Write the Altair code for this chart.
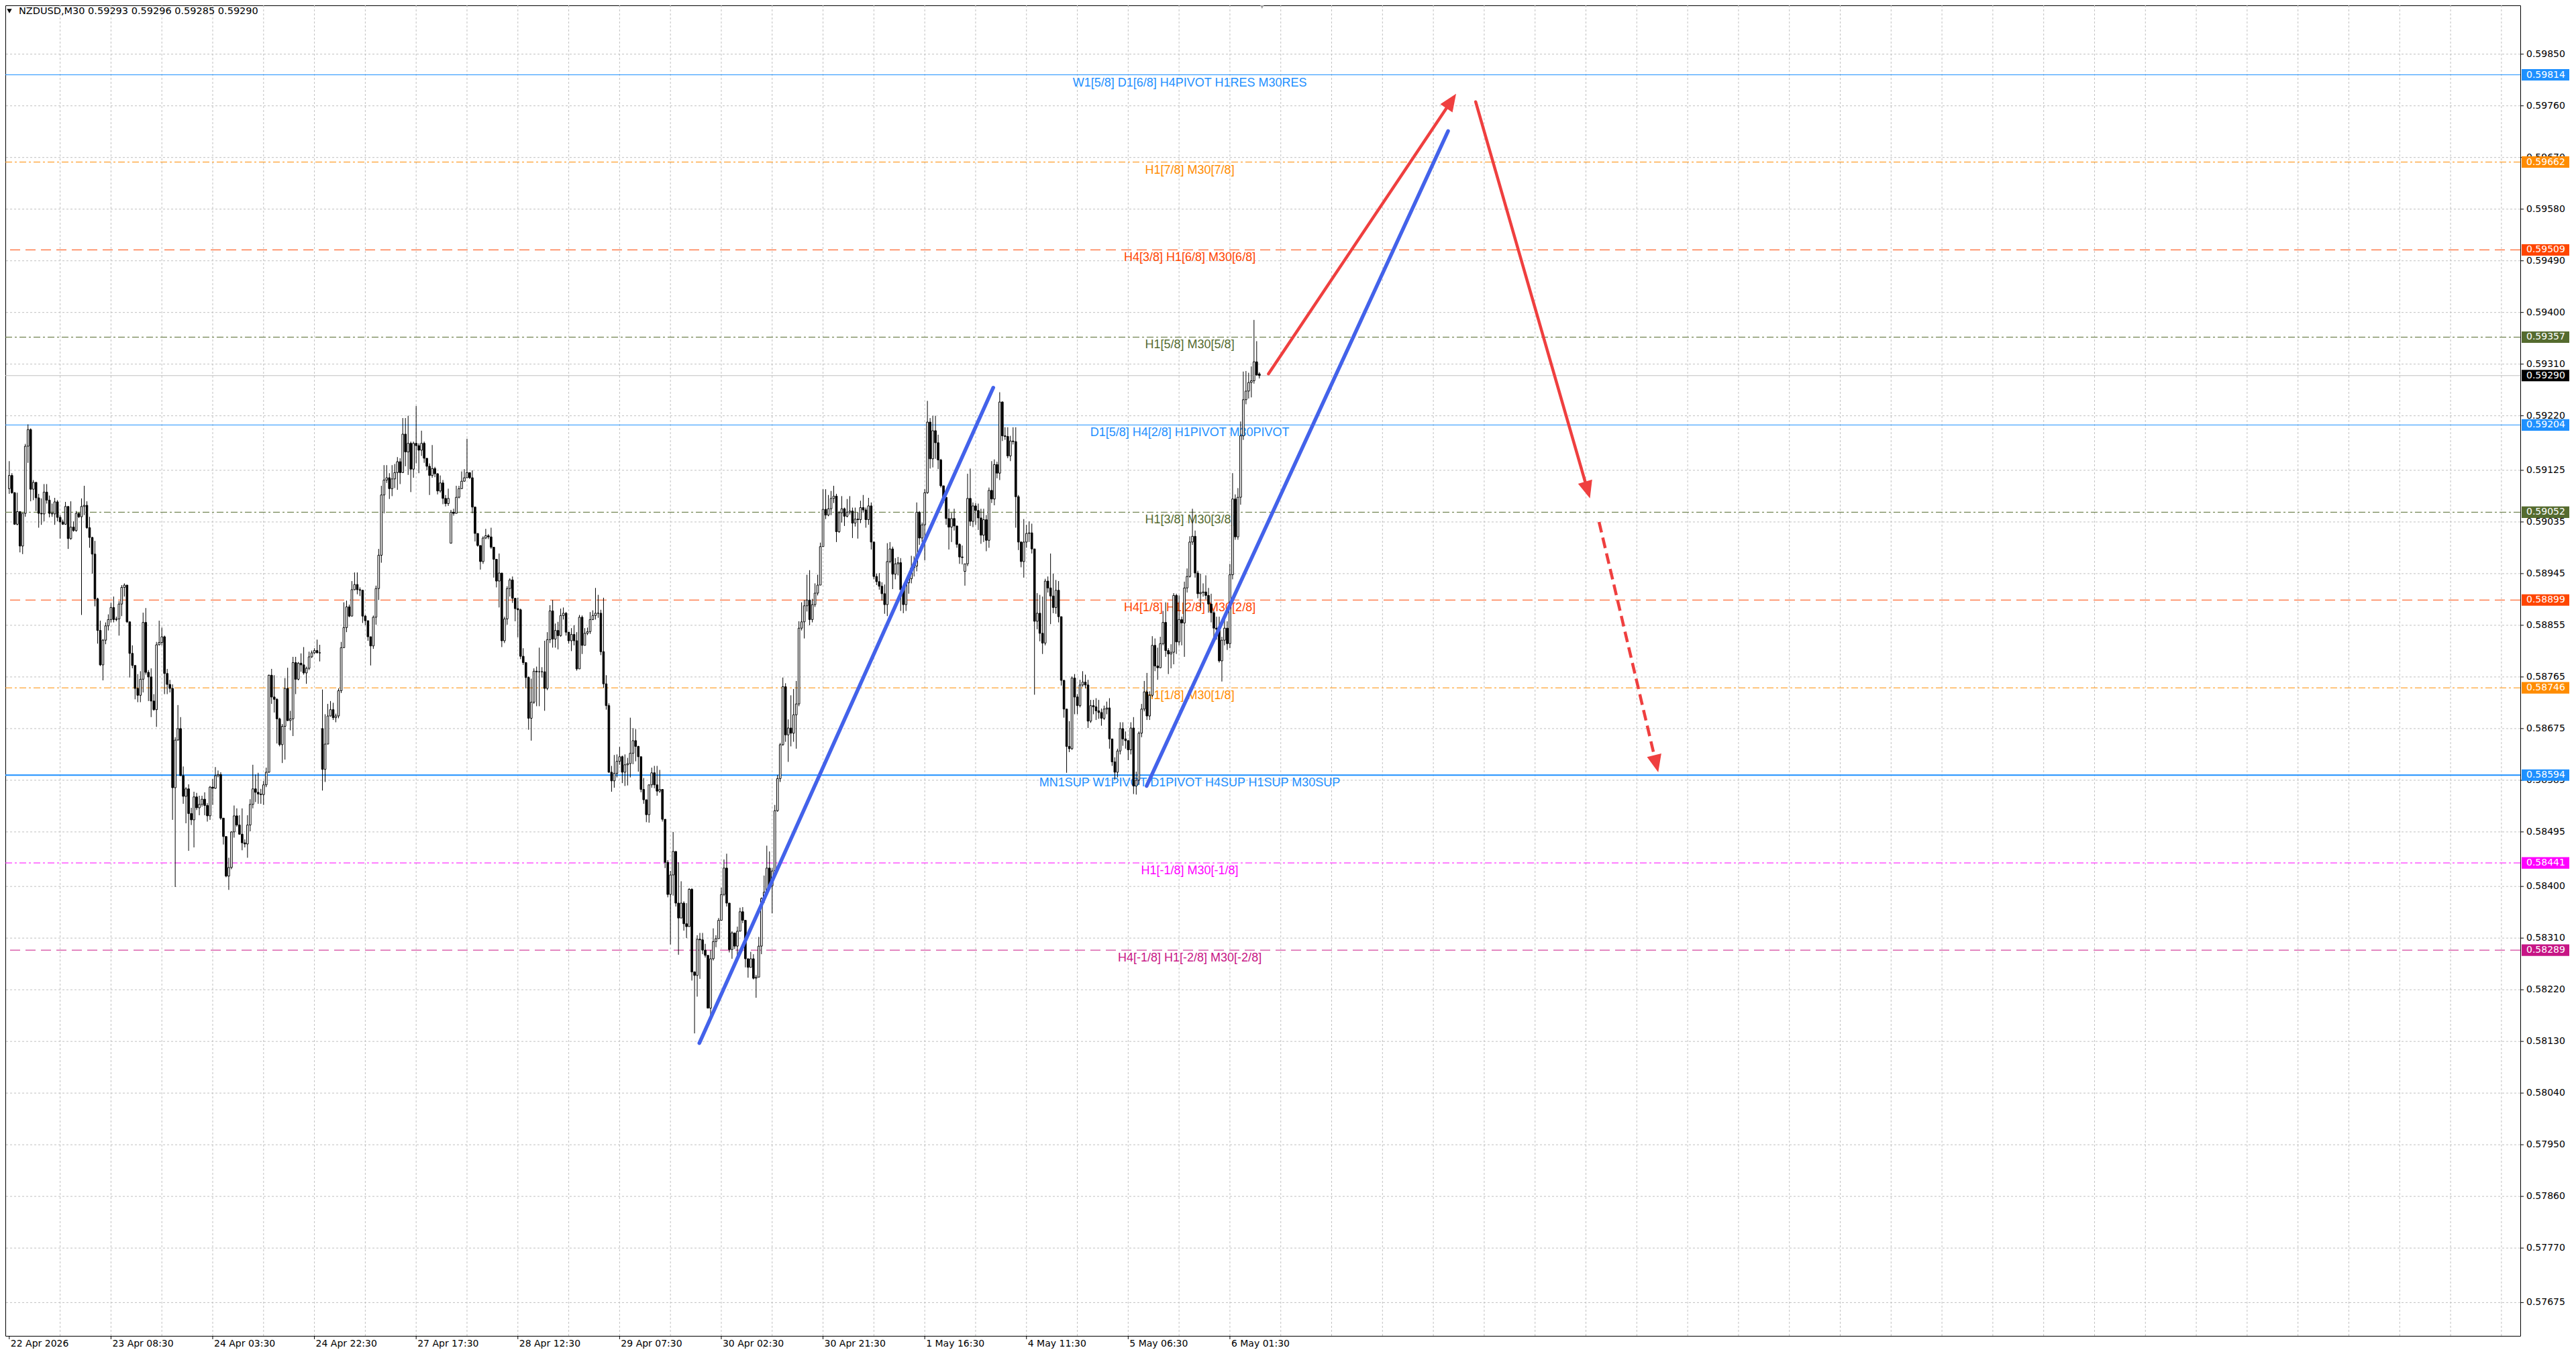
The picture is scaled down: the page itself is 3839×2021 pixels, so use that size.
import math
import altair as alt
import pandas as pd

# ---------------- data (prices in points, 1 point = 0.00001) ----------------
close_pts = [
    59116, 59086, 59031, 59053, 58993, 59050, 59167, 59196, 59092, 59104,
    59077, 59050, 59049, 59087, 59073, 59050, 59049, 59070, 59043, 59035,
    59031, 59062, 59006, 59026, 59020, 59050, 59044, 59062, 59064, 59025,
    59008, 58979, 58901, 58846, 58786, 58829, 58854, 58865, 58886, 58865,
    58866, 58892, 58921, 58925, 58861, 58806, 58785, 58745, 58733, 58761,
    58860, 58773, 58765, 58723, 58708, 58821, 58825, 58835, 58771, 58752,
    58745, 58572, 58655, 58675, 58593, 58557, 58570, 58527, 58516, 58556,
    58537, 58543, 58552, 58541, 58523, 58573, 58571, 58593, 58595, 58519,
    58487, 58418, 58433, 58495, 58523, 58507, 58491, 58476, 58474, 58507,
    58543, 58570, 58564, 58561, 58560, 58577, 58599, 58768, 58730, 58726,
    58692, 58647, 58679, 58745, 58689, 58692, 58790, 58761, 58789, 58786,
    58772, 58780, 58800, 58807, 58811, 58807, 58807, 58604, 58648, 58697,
    58708, 58694, 58697, 58741, 58816, 58851, 58887, 58871, 58917, 58926,
    58917, 58916, 58871, 58863, 58835, 58819, 58869, 58919, 58977, 59082,
    59108, 59112, 59093, 59110, 59121, 59140, 59121, 59188, 59157, 59172,
    59127, 59172, 59168, 59160, 59172, 59146, 59132, 59116, 59128, 59119,
    59089, 59103, 59076, 59067, 59076, 59052, 59050, 59078, 59093, 59106,
    59112, 59121, 59112, 59061, 59015, 58994, 58966, 59007, 59011, 59009,
    58991, 58970, 58932, 58946, 58828, 58866, 58919, 58934, 58902, 58884,
    58882, 58801, 58790, 58764, 58693, 58721, 58775, 58774, 58774, 58774,
    58745, 58830, 58880, 58831, 58846, 58837, 58872, 58876, 58843, 58828,
    58839, 58828, 58779, 58869, 58820, 58841, 58844, 58865, 58872, 58876,
    58876, 58809, 58753, 58715, 58599, 58584, 58597, 58618, 58626, 58599,
    58612, 58614, 58632, 58654, 58644, 58626, 58569, 58551, 58525, 58577,
    58598, 58577, 58566, 58569, 58517, 58442, 58386, 58420, 58461, 58371,
    58345, 58371, 58335, 58330, 58395, 58251, 58245, 58308, 58307, 58289,
    58280, 58188, 58274, 58304, 58309, 58341, 58386, 58432, 58371, 58290,
    58319, 58296, 58322, 58356, 58341, 58274, 58259, 58274, 58240, 58242,
    58296, 58379, 58390, 58432, 58401, 58427, 58532, 58588, 58647, 58748,
    58664, 58676, 58667, 58699, 58718, 58850, 58861, 58889, 58899, 58865,
    58891, 58911, 58925, 58992, 59057, 59047, 59058, 59076, 59080, 59018,
    59051, 59058, 59045, 59052, 59054, 59033, 59040, 59039, 59060, 59056,
    59039, 59063, 59000, 58940, 58931, 58923, 58910, 58891, 58966, 58988,
    58944, 58962, 58964, 58917, 58891, 58929, 58936, 58955, 58958, 59052,
    59007, 59030, 59086, 59209, 59145, 59194, 59173, 59143, 59098, 59078,
    59041, 59026, 59041, 59028, 58996, 58974, 58973, 58962, 59076, 59036,
    59063, 59055, 59042, 59012, 59039, 59003, 59090, 59075, 59135, 59120,
    59244, 59185, 59184, 59150, 59176, 59175, 59079, 59000, 58966, 59000,
    59015, 59016, 58988, 58862, 58876, 58841, 58824, 58932, 58920, 58906,
    58886, 58916, 58870, 58759, 58709, 58644, 58640, 58763, 58730, 58715,
    58751, 58756, 58751, 58688, 58715, 58713, 58706, 58703, 58693, 58709,
    58711, 58657, 58617, 58599, 58636, 58675, 58657, 58654, 58638, 58676,
    58575, 58585, 58667, 58709, 58739, 58697, 58733, 58820, 58784, 58781,
    58823, 58860, 58811, 58805, 58808, 58907, 58826, 58865, 58859, 58920,
    58940, 59000, 59010, 58946, 58910, 58912, 58913, 58907, 58892, 58877,
    58850, 58848, 58793, 58829, 58850, 58823, 58943, 59075, 59009, 59078,
    59185, 59248, 59263, 59278, 59281, 59314, 59291, 59290,
]
high_pts = [
    59141, 59120, 59087, 59086, 59053, 59050, 59171, 59205, 59198, 59108,
    59104, 59084, 59076, 59101, 59101, 59081, 59067, 59077, 59073, 59047,
    59039, 59070, 59062, 59071, 59036, 59054, 59051, 59076, 59098, 59071,
    59044, 59009, 59002, 58903, 58863, 58831, 58860, 58874, 58894, 58905,
    58870, 58897, 58925, 58928, 58925, 58861, 58820, 58785, 58770, 58775,
    58877, 58885, 58777, 58780, 58735, 58826, 58863, 58851, 58837, 58779,
    58760, 58752, 58660, 58716, 58695, 58609, 58573, 58578, 58537, 58565,
    58563, 58558, 58558, 58564, 58545, 58575, 58587, 58608, 58602, 58599,
    58519, 58487, 58450, 58496, 58541, 58536, 58524, 58536, 58482, 58524,
    58552, 58612, 58595, 58598, 58570, 58584, 58607, 58769, 58779, 58768,
    58728, 58694, 58683, 58763, 58781, 58706, 58800, 58800, 58791, 58806,
    58817, 58783, 58809, 58811, 58815, 58830, 58821, 58743, 58700, 58718,
    58723, 58720, 58701, 58745, 58826, 58895, 58898, 58891, 58932, 58947,
    58947, 58921, 58917, 58873, 58863, 58835, 58872, 58924, 58988, 59098,
    59134, 59134, 59120, 59134, 59136, 59148, 59146, 59216, 59216, 59220,
    59175, 59175, 59237, 59172, 59194, 59175, 59146, 59137, 59169, 59131,
    59120, 59116, 59108, 59082, 59093, 59056, 59058, 59098, 59098, 59123,
    59127, 59180, 59121, 59125, 59061, 59015, 58994, 59010, 59023, 59014,
    59025, 58991, 58970, 58980, 58946, 58870, 58923, 58937, 58940, 58902,
    58903, 58884, 58815, 58790, 58766, 58762, 58780, 58783, 58816, 58782,
    58828, 58843, 58890, 58899, 58858, 58861, 58884, 58886, 58878, 58843,
    58850, 58855, 58843, 58873, 58872, 58850, 58851, 58878, 58881, 58920,
    58908, 58882, 58903, 58768, 58719, 58610, 58629, 58630, 58643, 58628,
    58630, 58624, 58694, 58676, 58674, 58645, 58626, 58589, 58551, 58577,
    58607, 58610, 58610, 58603, 58569, 58517, 58446, 58427, 58495, 58461,
    58442, 58409, 58374, 58371, 58397, 58397, 58252, 58315, 58319, 58319,
    58300, 58280, 58289, 58327, 58315, 58345, 58398, 58447, 58457, 58371,
    58322, 58319, 58330, 58363, 58364, 58341, 58274, 58286, 58282, 58246,
    58312, 58381, 58419, 58471, 58461, 58432, 58542, 58594, 58650, 58764,
    58754, 58691, 58733, 58744, 58758, 58862, 58895, 58899, 58943, 58951,
    58901, 58928, 58943, 58999, 59092, 59092, 59082, 59089, 59098, 59084,
    59054, 59080, 59060, 59075, 59080, 59060, 59060, 59052, 59072, 59082,
    59060, 59077, 59069, 59000, 58945, 58946, 58930, 58926, 58998, 59000,
    58992, 58972, 58974, 58972, 58919, 58932, 58946, 58976, 58975, 59069,
    59054, 59034, 59092, 59246, 59216, 59220, 59220, 59187, 59145, 59098,
    59078, 59058, 59051, 59058, 59028, 58998, 58994, 58962, 59119, 59128,
    59069, 59068, 59067, 59058, 59058, 59047, 59095, 59141, 59144, 59140,
    59261, 59245, 59200, 59200, 59185, 59200, 59200, 59082, 59001, 59040,
    59030, 59036, 59032, 58988, 58911, 58908, 58905, 58936, 58940, 58980,
    58945, 58934, 58932, 58870, 58760, 58709, 58688, 58766, 58770, 58735,
    58760, 58775, 58769, 58760, 58725, 58725, 58728, 58725, 58710, 58715,
    58722, 58728, 58657, 58625, 58640, 58686, 58686, 58670, 58655, 58686,
    58695, 58600, 58670, 58718, 58758, 58772, 58740, 58836, 58832, 58816,
    58835, 58880, 58895, 58815, 58822, 58911, 58910, 58907, 58870, 58931,
    58954, 59010, 59058, 59020, 58950, 58945, 58928, 58942, 58920, 58910,
    58880, 58870, 58870, 58835, 58865, 58862, 58962, 59120, 59083, 59094,
    59210, 59297, 59298, 59295, 59306, 59387, 59350, 59296,
]
low_pts = [
    59084, 59084, 59030, 59029, 58982, 58979, 59044, 59138, 59071, 59073,
    59054, 59025, 59030, 59036, 59067, 59043, 59044, 59030, 59036, 59006,
    59030, 59030, 58988, 59004, 59018, 59018, 59042, 58873, 59047, 59023,
    58990, 58945, 58888, 58823, 58784, 58759, 58822, 58846, 58860, 58860,
    58862, 58837, 58871, 58905, 58859, 58764, 58780, 58726, 58721, 58721,
    58738, 58769, 58723, 58695, 58706, 58678, 58820, 58820, 58735, 58735,
    58738, 58516, 58399, 58654, 58593, 58544, 58510, 58462, 58507, 58468,
    58533, 58524, 58539, 58524, 58513, 58516, 58542, 58570, 58590, 58516,
    58473, 58416, 58394, 58430, 58485, 58504, 58490, 58463, 58468, 58450,
    58496, 58536, 58547, 58544, 58544, 58542, 58573, 58598, 58718, 58703,
    58649, 58644, 58615, 58621, 58688, 58672, 58662, 58735, 58759, 58774,
    58769, 58753, 58777, 58798, 58805, 58806, 58792, 58567, 58582, 58648,
    58696, 58690, 58686, 58693, 58737, 58816, 58843, 58869, 58871, 58916,
    58909, 58906, 58859, 58855, 58828, 58785, 58814, 58856, 58899, 58964,
    59050, 59103, 59075, 59080, 59094, 59091, 59101, 59121, 59132, 59117,
    59087, 59112, 59137, 59120, 59150, 59138, 59125, 59082, 59112, 59113,
    59083, 59086, 59066, 59062, 59063, 58998, 59046, 59050, 59076, 59093,
    59105, 59112, 59110, 59050, 59001, 58992, 58952, 58962, 59005, 59005,
    58988, 58938, 58921, 58886, 58817, 58824, 58856, 58905, 58894, 58862,
    58834, 58796, 58786, 58745, 58673, 58654, 58718, 58714, 58714, 58764,
    58706, 58742, 58824, 58816, 58816, 58813, 58835, 58865, 58837, 58823,
    58810, 58820, 58776, 58779, 58805, 58820, 58838, 58840, 58864, 58865,
    58868, 58803, 58746, 58708, 58598, 58565, 58572, 58590, 58612, 58580,
    58575, 58576, 58590, 58613, 58618, 58600, 58564, 58544, 58512, 58511,
    58572, 58571, 58558, 58563, 58513, 58432, 58381, 58299, 58384, 58365,
    58281, 58345, 58323, 58310, 58330, 58236, 58144, 58208, 58239, 58282,
    58276, 58188, 58167, 58271, 58294, 58309, 58341, 58383, 58365, 58285,
    58274, 58291, 58277, 58322, 58336, 58259, 58241, 58259, 58238, 58206,
    58242, 58282, 58371, 58388, 58394, 58353, 58427, 58530, 58582, 58645,
    58652, 58617, 58644, 58652, 58640, 58714, 58846, 58832, 58879, 58855,
    58860, 58887, 58907, 58925, 58992, 59040, 59045, 59047, 59068, 59000,
    59016, 59034, 59028, 59043, 59048, 59007, 59027, 59006, 59033, 59051,
    59025, 59030, 58987, 58935, 58925, 58917, 58898, 58875, 58871, 58963,
    58918, 58935, 58942, 58880, 58876, 58880, 58910, 58928, 58940, 58949,
    58995, 59000, 58968, 59084, 59128, 59130, 59145, 59127, 59095, 59068,
    59030, 58987, 59000, 59020, 58990, 58962, 58961, 58924, 58958, 59028,
    59026, 59030, 59021, 58997, 59000, 58984, 58990, 59068, 59064, 59111,
    59108, 59176, 59178, 59146, 59141, 59170, 59025, 58986, 58956, 58938,
    58990, 59000, 58980, 58734, 58848, 58827, 58805, 58820, 58912, 58857,
    58876, 58875, 58860, 58750, 58694, 58598, 58634, 58638, 58700, 58700,
    58712, 58748, 58745, 58676, 58685, 58700, 58690, 58692, 58680, 58690,
    58700, 58640, 58610, 58586, 58590, 58630, 58645, 58640, 58620, 58630,
    58561, 58560, 58577, 58660, 58705, 58690, 58690, 58730, 58775, 58760,
    58780, 58820, 58800, 58770, 58780, 58787, 58805, 58820, 58820, 58800,
    58912, 58938, 58995, 58938, 58902, 58885, 58905, 58900, 58877, 58860,
    58830, 58830, 58790, 58757, 58820, 58812, 58815, 58935, 59004, 59004,
    59065, 59178, 59240, 59250, 59252, 59276, 59290, 59285,
]
# opens that differ from the previous close (first bar, weekend gaps, etc.)
open_overrides = {0: 59093, 117: 58675, 165: 58998, 357: 58949, 467: 59293}

# level lines
level_prices = [0.59814, 0.59662, 0.59509, 0.59357, 0.59290, 0.59204,
                0.59052, 0.58899, 0.58746, 0.58594, 0.58441, 0.58289]
level_texts = ["W1[5/8] D1[6/8] H4PIVOT H1RES M30RES", "H1[7/8] M30[7/8]",
               "H4[3/8] H1[6/8] M30[6/8]", "H1[5/8] M30[5/8]", "",
               "D1[5/8] H4[2/8] H1PIVOT M30PIVOT", "H1[3/8] M30[3/8]",
               "H4[1/8] H1[2/8] M30[2/8]", "H1[1/8] M30[1/8]",
               "MN1SUP W1PIVOT D1PIVOT H4SUP H1SUP M30SUP",
               "H1[-1/8] M30[-1/8]", "H4[-1/8] H1[-2/8] M30[-2/8]"]
level_colors = ["#1E90FF", "#FF8C00", "#FF4500", "#556B2F", "#C0C0C0", "#1E90FF",
                "#556B2F", "#FF4500", "#FF8C00", "#1E90FF", "#FF00FF", "#C71585"]
tag_colors = ["#1E90FF", "#FF8C00", "#FF4500", "#556B2F", "#000000", "#1E90FF",
              "#556B2F", "#FF4500", "#FF8C00", "#1E90FF", "#FF00FF", "#C71585"]
level_styles = ["solid", "dashdot", "dash", "dashdot", "solid", "solid",
                "dashdot", "dash", "dashdot", "solid", "dashdot", "dash"]
level_widths = [1, 1, 1, 1, 1, 1, 1, 1, 1, 2, 1, 1]
label_bar = 441

# axis ticks / labels
y_ticks = [0.59850, 0.59760, 0.59670, 0.59580, 0.59490, 0.59400, 0.59310,
           0.59220, 0.59125, 0.59035, 0.58945, 0.58855, 0.58765, 0.58675,
           0.58585, 0.58495, 0.58400, 0.58310, 0.58220, 0.58130, 0.58040,
           0.57950, 0.57860, 0.57770, 0.57675]
x_label_texts = ["22 Apr 2026", "23 Apr 08:30", "24 Apr 03:30", "24 Apr 22:30",
                 "27 Apr 17:30", "28 Apr 12:30", "29 Apr 07:30", "30 Apr 02:30",
                 "30 Apr 21:30", "1 May 16:30", "4 May 11:30", "5 May 06:30",
                 "6 May 01:30"]
x_label_step = 38
grid_step = 19
shift_marker_bar = 468

# drawn trend lines and forecast arrows (bar index, price)
trend_x = [[257.8, 367.6], [424.9, 537.5]]
trend_y = [[0.58127, 0.59269], [0.58575, 0.59716]]
arrow_x = [[470.4, 540.5], [547.8, 590.5], [593.9, 616.0]]
arrow_y = [[0.59293, 0.59781], [0.59767, 0.59076], [0.59035, 0.58599]]
arrow_dashed = [False, False, True]

title_text = "NZDUSD,M30  0.59293 0.59296 0.59285 0.59290"

# ---------------- layout ----------------
W, H = 3748, 1983
X_DOMAIN = [-0.2, 936.8]
Y_DOMAIN = [0.57617, 0.59935]
PX_PER_BAR = W / (X_DOMAIN[1] - X_DOMAIN[0])
PX_PER_PRICE = H / (Y_DOMAIN[1] - Y_DOMAIN[0])

xs = alt.Scale(domain=X_DOMAIN, nice=False, zero=False)
ys = alt.Scale(domain=Y_DOMAIN, nice=False, zero=False)

AXIS_FONT = "DejaVu Sans"
LABEL_FONT = "Liberation Sans"
RED = "#EF3F3F"
BLUE = "#4362EA"


def X(field):
    return alt.X(field, scale=xs, axis=None)


def Y(field):
    return alt.Y(field, scale=ys, axis=None)


# ---------------- candles ----------------
rows = []
for i, c in enumerate(close_pts):
    o = open_overrides.get(i, close_pts[i - 1] if i > 0 else c)
    hh = max(high_pts[i], o, c)
    ll = min(low_pts[i], o, c)
    rows.append({"i": i, "o": o / 1e5, "c": c / 1e5, "h": hh / 1e5, "l": ll / 1e5})
cdf = pd.DataFrame(rows)

wicks = alt.Chart(cdf).mark_rule(color="black", strokeWidth=1).encode(
    x=X("i:Q"), y=Y("l:Q"), y2="h:Q",
)
bodies = alt.Chart(cdf).mark_bar(size=2.6, stroke="black", strokeWidth=1).encode(
    x=X("i:Q"), y=Y("o:Q"), y2="c:Q",
    fill=alt.condition("datum.c >= datum.o", alt.value("white"), alt.value("black")),
)

# ---------------- grid ----------------
grid_v = alt.Chart(pd.DataFrame({"g": list(range(grid_step, int(X_DOMAIN[1]), grid_step))})).mark_rule(
    color="#C0C0C0", strokeDash=[3, 3], strokeWidth=1
).encode(x=X("g:Q"))
grid_h = alt.Chart(pd.DataFrame({"v": y_ticks})).mark_rule(
    color="#C0C0C0", strokeDash=[3, 3], strokeWidth=1
).encode(y=Y("v:Q"))

# ---------------- axes (drawn as marks) ----------------
ytdf = pd.DataFrame({"v": y_ticks, "t": [f"{v:.5f}" for v in y_ticks]})
y_tick_marks = alt.Chart(ytdf).mark_rule(color="black", strokeWidth=1).encode(
    y=Y("v:Q"), x=alt.value(W), x2=alt.value(W + 5),
)
y_tick_labels = alt.Chart(ytdf).mark_text(
    font=AXIS_FONT, fontSize=14, align="left", baseline="middle", color="black"
).encode(y=Y("v:Q"), x=alt.value(W + 9), text="t:N")

xtdf = pd.DataFrame({"b": [k * x_label_step for k in range(len(x_label_texts))],
                     "t": x_label_texts})
x_tick_marks = alt.Chart(xtdf).mark_rule(color="black", strokeWidth=1).encode(
    x=X("b:Q"), y=alt.value(H), y2=alt.value(H + 5),
)
x_tick_labels = alt.Chart(xtdf).mark_text(
    font=AXIS_FONT, fontSize=14, align="left", baseline="top", color="black", dx=2
).encode(x=X("b:Q"), y=alt.value(H + 5), text="t:N")

# ---------------- levels ----------------
ldf = pd.DataFrame({
    "p": level_prices, "text": level_texts, "col": level_colors, "tag": tag_colors,
    "style": level_styles, "w": level_widths,
})
ldf["lx"] = label_bar
ldf["top"] = ldf["p"] + 0.0001
ldf["bot"] = ldf["p"] - 0.0001
ldf["ptxt"] = ldf["p"].map(lambda v: f"{v:.5f}")

level_layers = []
for style, dash in [("solid", None), ("dashdot", [10, 4, 3, 4]), ("dash", [15, 8])]:
    kw = {"strokeCap": "butt"}
    if dash:
        kw["strokeDash"] = dash
    level_layers.append(
        alt.Chart(ldf[ldf["style"] == style]).mark_rule(**kw).encode(
            y=Y("p:Q"),
            color=alt.Color("col:N", scale=None),
            strokeWidth=alt.StrokeWidth("w:Q", scale=None),
        )
    )

level_labels = alt.Chart(ldf[ldf["text"] != ""]).mark_text(
    font=LABEL_FONT, fontSize=18, align="center", baseline="alphabetic", dy=17
).encode(
    x=X("lx:Q"), y=Y("p:Q"), text="text:N",
    color=alt.Color("col:N", scale=None),
)

tags = alt.Chart(ldf).mark_rect().encode(
    x=alt.value(W + 2), x2=alt.value(W + 73),
    y=Y("top:Q"), y2="bot:Q",
    color=alt.Color("tag:N", scale=None),
)
tag_text = alt.Chart(ldf).mark_text(
    font=AXIS_FONT, fontSize=14, align="left", baseline="middle", color="white"
).encode(x=alt.value(W + 9), y=Y("p:Q"), text="ptxt:N")

# ---------------- trend lines and arrows ----------------
trows = []
for k, (xx, yy) in enumerate(zip(trend_x, trend_y)):
    for a, b in zip(xx, yy):
        trows.append({"seg": k, "x": a, "y": b})
trend = alt.Chart(pd.DataFrame(trows)).mark_line(
    color=BLUE, strokeWidth=5.5, strokeCap="round"
).encode(x=X("x:Q"), y=Y("y:Q"), detail="seg:N")

HEAD_LEN = 26
solid_rows, dash_rows, head_rows = [], [], []
for k, (xx, yy, dashed) in enumerate(zip(arrow_x, arrow_y, arrow_dashed)):
    dx = (xx[1] - xx[0]) * PX_PER_BAR
    dy = -(yy[1] - yy[0]) * PX_PER_PRICE
    ln = math.hypot(dx, dy)
    ux, uy = dx / ln, dy / ln
    back = 16
    ex = xx[1] - back * ux / PX_PER_BAR
    ey = yy[1] + back * uy / PX_PER_PRICE
    target = dash_rows if dashed else solid_rows
    target.append({"seg": k, "x": xx[0], "y": yy[0]})
    target.append({"seg": k, "x": ex, "y": ey})
    ang = math.degrees(math.atan2(ux, -uy)) % 360
    head_rows.append({"x": xx[1], "y": yy[1], "ang": ang})

red_solid = alt.Chart(pd.DataFrame(solid_rows)).mark_line(
    color=RED, strokeWidth=4.5, strokeCap="round"
).encode(x=X("x:Q"), y=Y("y:Q"), detail="seg:N")
red_dash = alt.Chart(pd.DataFrame(dash_rows)).mark_line(
    color=RED, strokeWidth=4.5, strokeDash=[16, 8], strokeCap="butt"
).encode(x=X("x:Q"), y=Y("y:Q"), detail="seg:N")
heads = alt.Chart(pd.DataFrame(head_rows)).mark_point(
    shape="M0,0L-0.42,1L0.42,1Z", filled=True, color=RED, opacity=1,
    size=(2 * HEAD_LEN) ** 2, strokeWidth=0,
).encode(x=X("x:Q"), y=Y("y:Q"), angle=alt.Angle("ang:Q", scale=None))

# ---------------- title and chart-shift marker ----------------
title = alt.Chart(pd.DataFrame({"t": [title_text]})).mark_text(
    font=AXIS_FONT, fontSize=14.5, align="left", baseline="middle", color="black"
).encode(x=alt.value(20), y=alt.value(9), text="t:N")
title_marker = alt.Chart(pd.DataFrame({"t": [title_text]})).mark_point(
    shape="triangle-down", filled=True, color="black", size=55, opacity=1
).encode(x=alt.value(6), y=alt.value(8.5))
shift_marker = alt.Chart(pd.DataFrame({"b": [shift_marker_bar]})).mark_point(
    shape="triangle-down", filled=True, color="#A0A0A0", size=45, opacity=1
).encode(x=X("b:Q"), y=alt.value(2))

chart = alt.layer(
    grid_v, grid_h, *level_layers, level_labels, wicks, bodies,
    trend, red_solid, red_dash, heads,
    y_tick_marks, y_tick_labels, x_tick_marks, x_tick_labels,
    tags, tag_text, title, title_marker, shift_marker,
).properties(
    width=W, height=H,
    autosize=alt.AutoSizeParams(type="none"),
    padding={"left": 0, "top": 0, "right": 75, "bottom": 22},
).configure(background="white").configure_view(stroke="black", strokeWidth=1)

chart.save("out.html", embed_options={"renderer": "svg", "actions": False})
